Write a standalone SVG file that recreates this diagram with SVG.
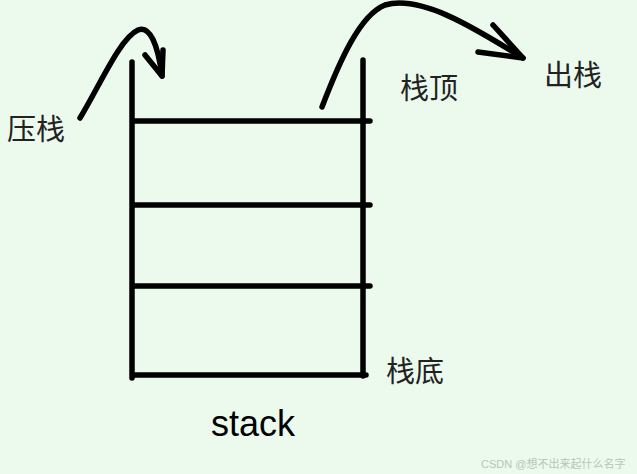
<svg xmlns="http://www.w3.org/2000/svg" width="637" height="474" viewBox="0 0 637 474">
<style>
.ln{stroke:#000;stroke-width:5.5;stroke-linecap:round;fill:none;stroke-linejoin:round}
.t{font-family:"Noto Sans CJK SC","Liberation Sans",sans-serif;font-size:29px;fill:#222}
.s{font-family:"Liberation Sans",Arial,sans-serif;font-size:36px;fill:#000}
.w{font-family:"Liberation Sans","Noto Sans CJK SC",sans-serif;font-size:11px;fill:#b8c4ba}
</style>
<rect width="637" height="474" fill="#ebfaed"/>
<g id="stack">
<path class="ln" d="M132,62 V378"/>
<path class="ln" d="M363,60 V376"/>
<path class="ln" d="M133,121 H370"/>
<path class="ln" d="M133,205 H370"/>
<path class="ln" d="M133,286 H370"/>
<path class="ln" d="M133,375 H366"/>
</g>
<g id="connectors">
<path class="ln" d="M80,118 C100,85 120,38 138,30 C150,25 158,45 162,76"/>
<path class="ln" d="M145,55 L162,76 L163,50"/>
<path class="ln" d="M322,107 C340,60 360,15 385,5 C420,-5 470,25 523,58"/>
<path class="ln" d="M493,25 L523,58 L478,52"/>
</g>
<g id="labels">
<text class="t" x="7" y="140">压栈</text>
<text class="t" x="400" y="99">栈顶</text>
<text class="t" x="544" y="86">出栈</text>
<text class="t" x="386" y="382">栈底</text>
<text class="s" x="211" y="436">stack</text>
<text class="w" x="481" y="468">CSDN @想不出来起什么名字</text>
</g>
</svg>
